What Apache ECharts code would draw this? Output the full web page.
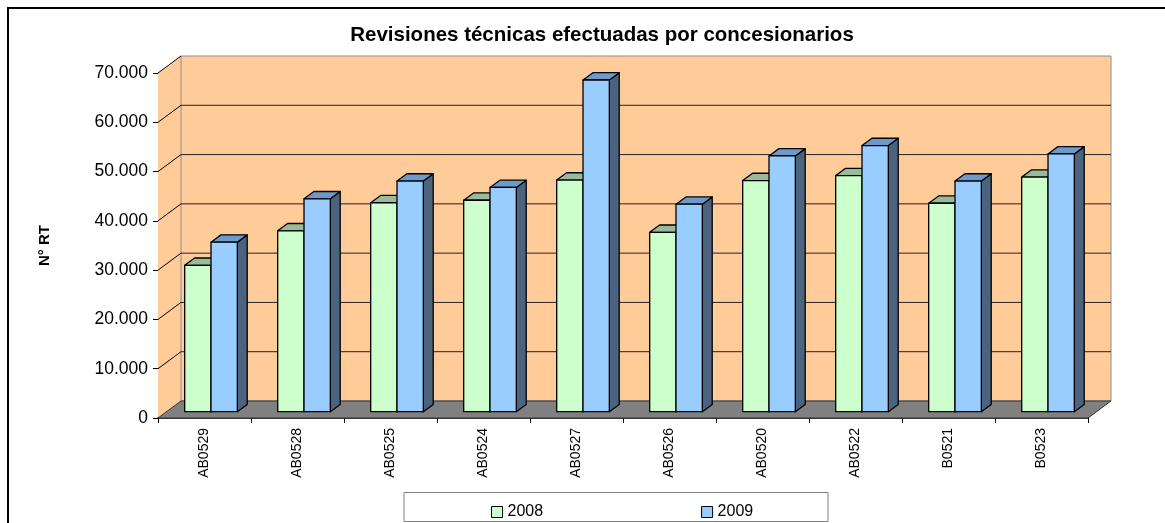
<!DOCTYPE html>
<html>
<head>
<meta charset="utf-8">
<script src="https://cdn.jsdelivr.net/npm/echarts@6/dist/echarts.min.js"></script>
<style>
  html, body { margin: 0; padding: 0; background: #fff; }
  #main { width: 1165px; height: 523px; }
</style>
</head>
<body>
<div id="main"></div>
<script>
const categories = ['AB0529', 'AB0528', 'AB0525', 'AB0524', 'AB0527', 'AB0526', 'AB0520', 'AB0522', 'B0521', 'B0523'];
const values2008 = [29700, 36700, 42400, 42900, 47000, 36400, 46900, 47900, 42300, 47600];
const values2009 = [34400, 43200, 46800, 45500, 67300, 42100, 51900, 54000, 46800, 52300];
const yTicks = [0, 10000, 20000, 30000, 40000, 50000, 60000, 70000];

const FONT = 'Liberation Sans, Arial, sans-serif';
// oblique depth of the 3d box (front plane -> back wall)
const DX = 23, DY = -17;
// bars sit between these depth fractions
const T0 = 0.37, BD = 0.43;
const BAR_FRAC = 0.283;

const fmt = v => String(v).replace(/\B(?=(\d{3})+(?!\d))/g, '.');

function renderWalls(params, api) {
  const cs = params.coordSys;
  const x0 = cs.x, x1 = cs.x + cs.width;
  const yTop = api.coord([0, yTicks[yTicks.length - 1]])[1];
  const yBase = api.coord([0, 0])[1];
  const kids = [];
  kids.push({
    type: 'polygon',
    shape: { points: [[x0, yTop], [x0 + DX, yTop + DY], [x0 + DX, yBase + DY], [x0, yBase]] },
    style: { fill: '#FFCC99' }
  });
  kids.push({
    type: 'rect',
    shape: { x: x0 + DX, y: yTop + DY, width: cs.width, height: yBase - yTop },
    style: { fill: '#FFCC99', stroke: '#8c8c8c', lineWidth: 1 }
  });
  kids.push({
    type: 'polygon',
    shape: { points: [[x0, yBase], [x0 + DX, yBase + DY], [x1 + DX, yBase + DY], [x1, yBase]] },
    style: { fill: '#808080', stroke: '#333', lineWidth: 1 }
  });
  yTicks.forEach(v => {
    if (v === 0) return;
    const y = api.coord([0, v])[1];
    kids.push({
      type: 'line',
      shape: { x1: x0, y1: y, x2: x0 + DX, y2: y + DY },
      style: { stroke: '#000', lineWidth: 1 }
    });
    if (v < yTicks[yTicks.length - 1]) {
      kids.push({
        type: 'line',
        shape: { x1: x0 + DX, y1: y + DY, x2: x1 + DX, y2: y + DY },
        style: { stroke: '#222', lineWidth: 1 }
      });
    }
  });
  return { type: 'group', children: kids };
}

function barRenderer(slot, front, top, side) {
  return function (params, api) {
    const idx = api.value(0);
    const val = api.value(1);
    const band = api.size([1, 0])[0];
    const w = band * BAR_FRAC;
    const base = api.coord([idx, 0]);
    const head = api.coord([idx, val]);
    const fx = T0 * DX, fy = T0 * DY;
    const bx = BD * DX, by = BD * DY;
    const left = base[0] - w + slot * w + fx - 2;
    const right = left + w;
    const yT = head[1] + fy;
    const yB = base[1] + fy;
    const line = { stroke: '#000', lineWidth: 1.3, lineJoin: 'round' };
    return {
      type: 'group',
      children: [
        {
          type: 'polygon',
          shape: { points: [[right, yT], [right + bx, yT + by], [right + bx, yB + by], [right, yB]] },
          style: Object.assign({ fill: side }, line)
        },
        {
          type: 'polygon',
          shape: { points: [[left, yT], [right, yT], [right + bx, yT + by], [left + bx, yT + by]] },
          style: Object.assign({ fill: top }, line)
        },
        {
          type: 'rect',
          shape: { x: left, y: yT, width: w, height: yB - yT },
          style: Object.assign({ fill: front }, line)
        }
      ]
    };
  };
}

const chart = echarts.init(document.getElementById('main'));
chart.setOption({
  animation: false,
  backgroundColor: '#fff',
  title: {
    text: 'Revisiones técnicas efectuadas por concesionarios',
    left: 597,
    top: 20,
    textAlign: 'center',
    textStyle: { fontFamily: FONT, fontSize: 20.5, fontWeight: 'bold', color: '#000' }
  },
  legend: {
    left: 486,
    top: 499,
    itemGap: 158,
    itemWidth: 11,
    itemHeight: 11,
    icon: 'rect',
    textStyle: { fontFamily: FONT, fontSize: 16, color: '#000' },
    data: [
      { name: '2008', itemStyle: { color: '#CCFFCC', borderColor: '#000', borderWidth: 1 } },
      { name: '2009', itemStyle: { color: '#99CCFF', borderColor: '#000', borderWidth: 1 } }
    ]
  },
  graphic: [
    {
      type: 'rect',
      shape: { x: 8, y: 8, width: 1200, height: 600 },
      style: { fill: 'none', stroke: '#000', lineWidth: 2 },
      silent: true
    },
    {
      type: 'rect',
      shape: { x: 404, y: 492.5, width: 424, height: 29 },
      style: { fill: 'none', stroke: '#808080', lineWidth: 1 },
      silent: true
    }
  ],
  grid: { left: 158, top: 73, width: 930, height: 345 },
  xAxis: {
    type: 'category',
    data: categories,
    boundaryGap: true,
    axisLine: { lineStyle: { color: '#000', width: 1.5 } },
    axisTick: { show: true, length: 5, lineStyle: { color: '#000' } },
    axisLabel: { rotate: 90, fontFamily: FONT, fontSize: 14, color: '#000', margin: 10 },
    splitLine: { show: false }
  },
  yAxis: {
    type: 'value',
    min: yTicks[0],
    max: yTicks[yTicks.length - 1],
    interval: yTicks[1] - yTicks[0],
    name: 'N° RT',
    nameLocation: 'middle',
    nameRotate: 90,
    nameGap: 106,
    nameTextStyle: { fontFamily: FONT, fontSize: 15, fontWeight: 'bold', color: '#000' },
    axisLine: { show: true, lineStyle: { color: '#000', width: 1 } },
    axisTick: { show: true, length: 5, lineStyle: { color: '#000' } },
    axisLabel: { formatter: fmt, fontFamily: FONT, fontSize: 17.5, color: '#000', margin: 10 },
    splitLine: { show: false }
  },
  series: [
    {
      type: 'custom',
      name: 'walls',
      renderItem: renderWalls,
      data: [[0, 0]],
      clip: false,
      silent: true,
      z: 1
    },
    {
      type: 'custom',
      name: '2008',
      renderItem: barRenderer(0, '#CCFFCC', '#99BB99', '#669966'),
      data: categories.map((c, i) => [i, values2008[i]]),
      encode: { x: 0, y: 1 },
      itemStyle: { color: '#CCFFCC' },
      clip: false,
      z: 3
    },
    {
      type: 'custom',
      name: '2009',
      renderItem: barRenderer(1, '#99CCFF', '#6F99C8', '#4C6380'),
      data: categories.map((c, i) => [i, values2009[i]]),
      encode: { x: 0, y: 1 },
      itemStyle: { color: '#99CCFF' },
      clip: false,
      z: 4
    }
  ]
});
</script>
</body>
</html>
